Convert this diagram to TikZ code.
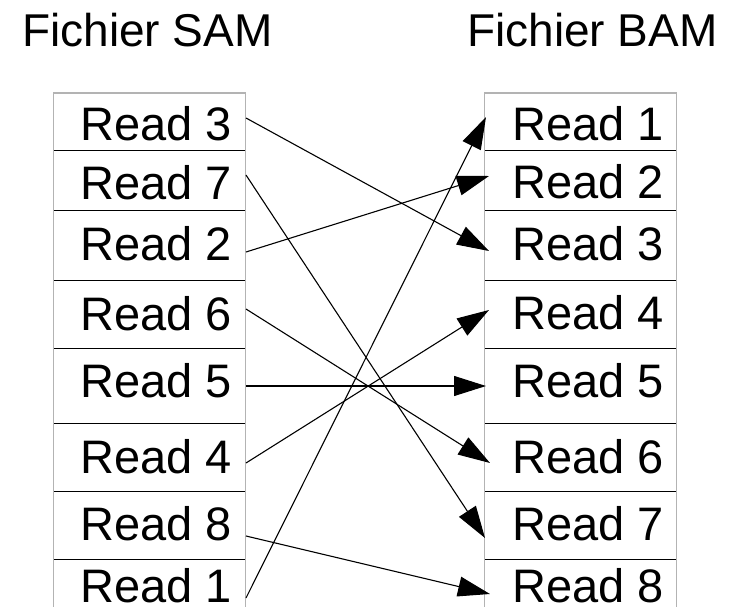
\documentclass[tikz,border=0pt]{standalone}
\usepackage{fontspec}
\setmainfont{Liberation Sans}
\usetikzlibrary{arrows.meta}
\definecolor{framegray}{HTML}{B3B3B3}
\begin{document}
\begin{tikzpicture}[x=1pt,y=-1pt,
  frame/.style={draw=framegray,line width=1.2pt},
  sep/.style={draw=black,line width=1pt},
  lbl/.style={anchor=base west,inner sep=0pt,font=\fontsize{47}{56}\selectfont},
  title/.style={anchor=base west,inner sep=0pt,font=\fontsize{46}{55}\selectfont},
  link/.style={draw=black,line width=1.1pt,-{Triangle[length=32pt,width=20pt]}}]
\useasboundingbox (0,0) rectangle (729,607);

% titles
\node[title] (tsam) at (22,47) {Fichier SAM};
\node[title] (tbam) at (467,47) {Fichier BAM};

% left column frame
\draw[frame] (53.5,607) -- (53.5,93) -- (245.5,93) -- (245.5,607);
\foreach \y in {151,211,280,348,423,491,559}
  \draw[sep] (54,\y) -- (245,\y);
% right column frame
\draw[frame] (484.5,607) -- (484.5,93) -- (676.5,93) -- (676.5,607);
\foreach \y in {151,211,280,348,423,491,559}
  \draw[sep] (485,\y) -- (676,\y);

% left labels
\node[lbl] (l3) at (80,141) {Read 3};
\node[lbl] (l7) at (80,200) {Read 7};
\node[lbl] (l2) at (80,260) {Read 2};
\node[lbl] (l6) at (80,330) {Read 6};
\node[lbl] (l5) at (80,397) {Read 5};
\node[lbl] (l4) at (80,473) {Read 4};
\node[lbl] (l8) at (80,540) {Read 8};
\node[lbl] (l1) at (80,602) {Read 1};

% right labels
\node[lbl] (r1) at (512,141) {Read 1};
\node[lbl] (r2) at (512,199) {Read 2};
\node[lbl] (r3) at (512,260) {Read 3};
\node[lbl] (r4) at (512,329) {Read 4};
\node[lbl] (r5) at (512,397) {Read 5};
\node[lbl] (r6) at (512,473) {Read 6};
\node[lbl] (r7) at (512,540) {Read 7};
\node[lbl] (r8) at (512,602) {Read 8};

% connector end points
\coordinate (s3) at (246,118);
\coordinate (s7) at (246,175);
\coordinate (s2) at (246,252);
\coordinate (s6) at (246,309);
\coordinate (s5) at (246,386);
\coordinate (s4) at (246,463);
\coordinate (s8) at (246,536);
\coordinate (s1) at (246,598);

\coordinate (e1) at (486,117);
\coordinate (e2) at (489,176);
\coordinate (e3) at (489,251);
\coordinate (e4) at (489,310);
\coordinate (e5) at (486,386);
\coordinate (e6) at (490,463);
\coordinate (e7) at (485,538);
\coordinate (e8) at (490,594);

% reordering connectors
\draw[link] (s3) -- (e3);
\draw[link] (s7) -- (e7);
\draw[link] (s2) -- (e2);
\draw[link] (s6) -- (e6);
\draw[link] (s5) -- (e5);
\draw[link] (s4) -- (e4);
\draw[link] (s8) -- (e8);
\draw[link] (s1) -- (e1);
\end{tikzpicture}
\end{document}
